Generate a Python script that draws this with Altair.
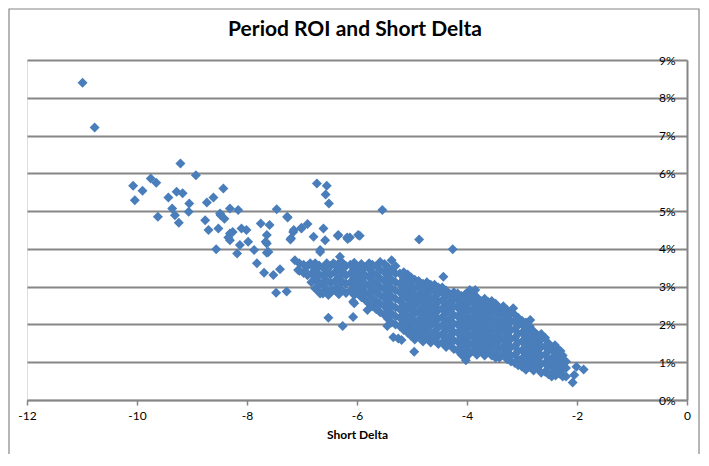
import altair as alt
import pandas as pd

# scattered points (x = short delta, y = ROI in %)
sparse_delta = [
    -10.99, -10.77, -9.21, -8.93, -10.07, -10.04, -9.90, -9.75, -9.65, -9.62,
    -9.43, -9.36, -9.28, -9.17, -9.31, -9.24, -9.05, -9.06, -8.73, -8.61,
    -8.43, -8.76, -8.70, -8.49, -8.31, -8.16, -8.52, -8.31, -8.10, -8.01,
    -7.75, -7.59, -7.64, -7.46, -7.26, -7.16, -7.01, -6.90, -6.73, -6.55,
    -6.57, -6.51, -6.61, -6.34, -6.18, -6.79, -5.98, -8.48, -8.41, -8.34,
    -8.26, -8.13, -8.18, -8.56, -7.98, -7.87, -7.66, -7.61, -7.82, -7.69,
    -7.52, -7.40, -7.21, -7.47, -7.28, -7.13, -7.07, -8.31, -7.64, -7.64,
    -6.95, -6.58, -6.67, -6.76, -6.67, -6.67, -6.52, -6.43, -6.43, -6.31,
    -6.52, -6.26, -6.07, -6.07, -7.27, -7.15, -7.20, -7.01, -6.35, -6.17,
    -5.95, -5.54, -4.87, -4.26, -6.67, -6.05, -5.81, -5.45, -5.25, -4.43,
    -4.13, -3.95, -6.13, -5.34, -5.19, -5.02, -4.96, -4.04, -3.85, -3.16,
    -2.85, -2.46, -2.08, -2.05, -1.88, -2.01, -4.02, -2.30, -2.40, -6.85,
]
sparse_roi = [
    8.40, 7.21, 6.26, 5.95, 5.67, 5.29, 5.54, 5.86, 5.75, 4.85,
    5.36, 5.07, 5.51, 5.47, 4.89, 4.69, 5.20, 4.98, 5.23, 5.36,
    5.60, 4.76, 4.50, 4.94, 5.07, 5.03, 4.54, 4.41, 4.54, 4.50,
    4.67, 4.63, 4.37, 5.05, 4.83, 4.45, 4.54, 4.66, 5.73, 5.67,
    5.44, 5.20, 4.54, 4.37, 4.30, 4.32, 4.37, 4.89, 4.80, 4.30,
    4.45, 4.10, 3.88, 3.99, 4.19, 3.97, 4.19, 3.92, 3.62, 3.37,
    3.31, 3.46, 4.25, 2.84, 2.87, 3.70, 3.44, 4.23, 4.14, 3.90,
    3.40, 4.23, 3.92, 3.35, 3.09, 2.82, 2.78, 2.91, 3.62, 3.79,
    2.18, 1.96, 2.60, 2.20, 4.85, 4.50, 4.28, 4.56, 4.35, 4.26,
    4.35, 5.03, 4.25, 3.99, 3.97, 2.56, 2.38, 1.96, 1.63, 3.26,
    2.73, 2.91, 4.30, 1.66, 1.59, 1.72, 1.28, 2.78, 2.91, 2.43,
    2.12, 0.62, 0.46, 0.66, 0.81, 0.88, 1.05, 1.30, 1.45, 3.62,
]

# the dense cloud, read column by column (delta of the column, ROI values in %)
cloud_delta = [
    -7.05, -6.90, -6.76, -6.62, -6.48, -6.33, -6.20, -6.05, -5.92, -5.78,
    -5.65, -5.50, -5.37, -5.22, -5.08, -4.95, -4.80, -4.66, -4.52, -4.38,
    -4.24, -4.10, -3.96, -3.82, -3.68, -3.55, -3.41, -3.27, -3.13, -3.00,
    -2.86, -2.72, -2.58, -2.45, -2.32, -2.20,
]
cloud_roi = [
    [3.42, 3.62],
    [3.30, 3.55],
    [2.95, 3.20, 3.45, 3.62],
    [2.82, 3.05, 3.28, 3.50],
    [2.85, 3.10, 3.32, 3.55],
    [2.80, 3.02, 3.25, 3.48, 3.62],
    [2.83, 3.08, 3.30, 3.55],
    [2.78, 3.00, 3.22, 3.45, 3.63],
    [2.72, 2.95, 3.18, 3.40, 3.60],
    [2.55, 2.80, 3.02, 3.25, 3.48, 3.62],
    [2.40, 2.62, 2.85, 3.08, 3.30, 3.55],
    [2.25, 2.48, 2.70, 2.93, 3.15, 3.38, 3.60],
    [2.05, 2.28, 2.50, 2.73, 2.95, 3.18, 3.42, 3.70],
    [1.95, 2.18, 2.40, 2.63, 2.85, 3.08, 3.35],
    [1.78, 2.00, 2.22, 2.45, 2.68, 2.90, 3.12, 3.32],
    [1.60, 1.82, 2.05, 2.28, 2.50, 2.72, 2.95, 3.18],
    [1.55, 1.78, 2.00, 2.22, 2.45, 2.68, 2.90, 3.08],
    [1.52, 1.75, 1.98, 2.20, 2.42, 2.65, 2.88, 3.05],
    [1.48, 1.70, 1.92, 2.15, 2.38, 2.60, 2.82, 2.98],
    [1.40, 1.62, 1.85, 2.08, 2.30, 2.52, 2.75, 2.90],
    [1.35, 1.58, 1.80, 2.02, 2.25, 2.48, 2.70, 2.85],
    [1.20, 1.42, 1.65, 1.88, 2.10, 2.32, 2.55, 2.75],
    [1.22, 1.45, 1.68, 1.90, 2.12, 2.35, 2.58, 2.75],
    [1.20, 1.42, 1.65, 1.88, 2.10, 2.32, 2.55, 2.72],
    [1.18, 1.40, 1.62, 1.85, 2.08, 2.30, 2.50, 2.68],
    [1.18, 1.40, 1.62, 1.85, 2.08, 2.30, 2.50, 2.62],
    [1.12, 1.35, 1.58, 1.80, 2.02, 2.25, 2.42],
    [1.08, 1.30, 1.52, 1.75, 1.98, 2.20, 2.38],
    [0.98, 1.20, 1.42, 1.65, 1.88, 2.10, 2.25],
    [0.88, 1.10, 1.32, 1.55, 1.78, 2.00, 2.10],
    [0.88, 1.10, 1.32, 1.55, 1.75, 1.95],
    [0.85, 1.08, 1.30, 1.52, 1.72],
    [0.75, 0.98, 1.20, 1.42, 1.65],
    [0.72, 0.92, 1.12, 1.35],
    [0.70, 0.90, 1.10],
    [0.62, 0.85, 1.02],
]

# second pass over the cloud, in between the columns above
cloud2_delta = [
    -6.97, -6.83, -6.69, -6.55, -6.40, -6.27, -6.12, -5.99, -5.85, -5.72,
    -5.58, -5.44, -5.30, -5.15, -5.02, -4.88, -4.73, -4.59, -4.45, -4.31,
    -4.17, -4.03, -3.89, -3.75, -3.62, -3.48, -3.34, -3.20, -3.07, -2.93,
    -2.79, -2.65, -2.52, -2.39, -2.26,
]
cloud2_roi = [
    [3.36, 3.58],
    [3.12, 3.35, 3.58],
    [2.88, 3.10, 3.33, 3.56],
    [2.93, 3.16, 3.40, 3.62],
    [2.92, 3.15, 3.38, 3.58],
    [2.90, 3.14, 3.40, 3.64],
    [2.90, 3.12, 3.35, 3.58],
    [2.85, 3.08, 3.30, 3.52],
    [2.65, 2.85, 3.08, 3.30, 3.52],
    [2.48, 2.70, 2.92, 3.15, 3.38, 3.58],
    [2.32, 2.55, 2.78, 3.00, 3.22, 3.45, 3.65],
    [2.15, 2.38, 2.60, 2.82, 3.05, 3.28, 3.52],
    [2.00, 2.22, 2.45, 2.68, 2.90, 3.12, 3.35, 3.55],
    [1.85, 2.08, 2.30, 2.52, 2.75, 2.98, 3.20, 3.38],
    [1.70, 1.92, 2.15, 2.38, 2.60, 2.82, 3.05, 3.25],
    [1.68, 1.90, 2.12, 2.35, 2.58, 2.80, 3.02, 3.15],
    [1.65, 1.88, 2.10, 2.32, 2.55, 2.78, 2.98, 3.12],
    [1.60, 1.82, 2.05, 2.28, 2.50, 2.72, 2.92, 3.05],
    [1.52, 1.75, 1.98, 2.20, 2.42, 2.65, 2.85, 2.98],
    [1.48, 1.70, 1.92, 2.15, 2.38, 2.60, 2.80],
    [1.32, 1.55, 1.78, 2.00, 2.22, 2.45, 2.65, 2.82],
    [1.12, 1.32, 1.55, 1.78, 2.00, 2.22, 2.45, 2.65, 2.80],
    [1.30, 1.52, 1.75, 1.98, 2.20, 2.42, 2.65, 2.80],
    [1.30, 1.52, 1.75, 1.98, 2.20, 2.42, 2.62],
    [1.28, 1.50, 1.72, 1.95, 2.18, 2.40, 2.60],
    [1.12, 1.25, 1.48, 1.70, 1.92, 2.15, 2.38, 2.55],
    [1.20, 1.42, 1.65, 1.88, 2.10, 2.32, 2.48],
    [1.02, 1.18, 1.40, 1.62, 1.85, 2.08, 2.30],
    [0.92, 1.08, 1.30, 1.52, 1.75, 1.98, 2.18],
    [0.80, 0.98, 1.20, 1.42, 1.65, 1.88, 2.05],
    [0.78, 0.98, 1.20, 1.42, 1.62, 1.82],
    [0.72, 0.95, 1.18, 1.40, 1.60, 1.75],
    [0.68, 0.88, 1.08, 1.30, 1.50],
    [0.65, 0.82, 1.02, 1.22, 1.40],
    [0.62, 0.80, 0.98, 1.18],
]

x_ticks = [-12, -10, -8, -6, -4, -2, 0]
y_ticks = [0.0, 0.01, 0.02, 0.03, 0.04, 0.05, 0.06, 0.07, 0.08, 0.09]
titulo = "Period ROI and Short Delta"

rows = [{"delta": d, "roi": r / 100} for d, r in zip(sparse_delta, sparse_roi)]
for d, col in zip(cloud_delta + cloud2_delta, cloud_roi + cloud2_roi):
    rows += [{"delta": d, "roi": r / 100} for r in col]
df = pd.DataFrame(rows)

GRIS = "#868686"
AZUL = "#4A7EBB"
FUENTE = "Lato"

puntos = (
    alt.Chart(df)
    .mark_point(shape="diamond", filled=True, size=100, opacity=1, color=AZUL)
    .encode(
        x=alt.X(
            "delta:Q",
            title="Short Delta",
            scale=alt.Scale(domain=[-12, 0], nice=False),
            axis=alt.Axis(
                values=x_ticks, grid=False, domainColor=GRIS, domainWidth=1.5,
                tickColor=GRIS, tickWidth=1.5, tickSize=5, labelPadding=5,
                labelFlush=False,
                labelExpr="datum.value < 0 ? '-' + abs(datum.value) : '' + datum.value",
                labelFontSize=12, labelColor="#000000", labelFont=FUENTE,
                titleFontSize=12, titleFontWeight="bold", titleColor="#000000",
                titlePadding=8, titleFont=FUENTE,
            ),
        ),
        y=alt.Y(
            "roi:Q",
            title=None,
            scale=alt.Scale(domain=[0, 0.09], nice=False),
            axis=alt.Axis(
                orient="right", values=y_ticks, format=".0%", grid=True,
                gridColor=GRIS, gridWidth=2, domainColor=GRIS, domainWidth=2,
                ticks=False, tickSize=0, labelAlign="right", labelPadding=-12,
                labelFlush=False,
                labelFontSize=12, labelColor="#000000", labelFont=FUENTE,
            ),
        ),
    )
)

cabecera = (
    alt.Chart(pd.DataFrame({"t": [titulo]}))
    .mark_text(fontSize=21, fontWeight="bold", font=FUENTE, color="#000000",
               align="center", baseline="alphabetic")
    .encode(text="t:N", x=alt.value(328), y=alt.value(-24))
)

marco = (
    alt.Chart(pd.DataFrame({"k": [0]}))
    .mark_rect(fillOpacity=0, stroke=GRIS, strokeWidth=1.2)
    .encode(
        x=alt.value(-18), x2=alt.value(672),
        y=alt.value(-51), y2=alt.value(396),
    )
)

chart = (
    (puntos + cabecera + marco)
    .properties(
        width=660,
        height=340,
        autosize=alt.AutoSizeParams(type="none"),
        padding={"left": 19, "top": 52, "right": 14, "bottom": 54},
    )
    .configure_view(stroke=None)
    .configure(background="#ffffff")
)

chart.save("out.html", embed_options={"renderer": "svg", "actions": False})
